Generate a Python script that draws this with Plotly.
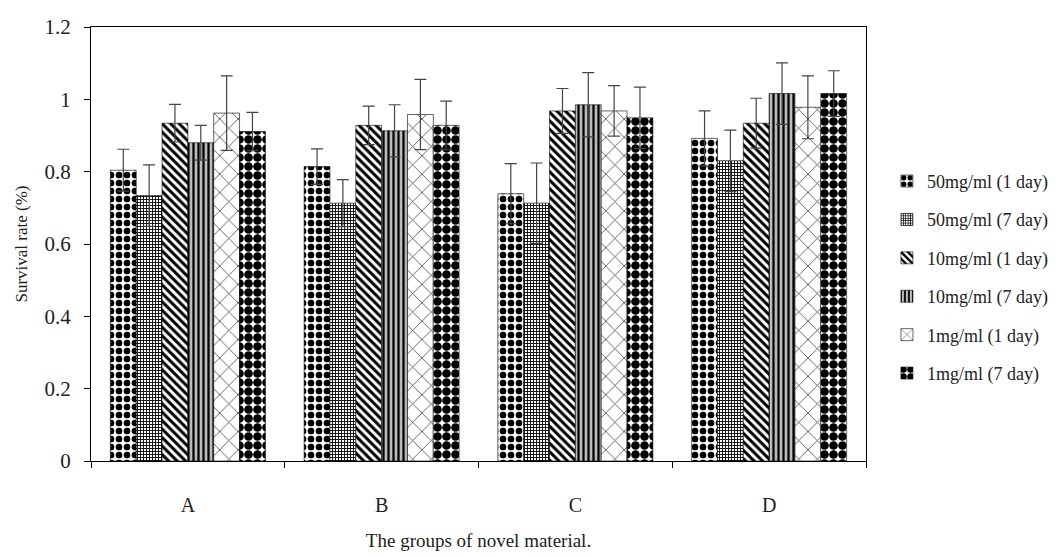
import plotly.graph_objects as go

groups = ["A", "B", "C", "D"]
series_names = ["50mg/ml (1 day)", "50mg/ml (7 day)", "10mg/ml (1 day)",
                "10mg/ml (7 day)", "1mg/ml (1 day)", "1mg/ml (7 day)"]

# values per series across groups A, B, C, D
s50_1 = [0.804, 0.814, 0.739, 0.892]
s50_7 = [0.734, 0.713, 0.713, 0.830]
s10_1 = [0.934, 0.928, 0.968, 0.934]
s10_7 = [0.880, 0.913, 0.985, 1.016]
s1_1 = [0.962, 0.958, 0.968, 0.978]
s1_7 = [0.911, 0.928, 0.949, 1.016]

e50_1 = [0.058, 0.049, 0.083, 0.076]
e50_7 = [0.085, 0.065, 0.111, 0.085]
e10_1 = [0.052, 0.053, 0.062, 0.069]
e10_7 = [0.048, 0.072, 0.089, 0.085]
e1_1 = [0.103, 0.097, 0.070, 0.087]
e1_7 = [0.053, 0.067, 0.085, 0.063]

y_ticks = [0, 0.2, 0.4, 0.6, 0.8, 1, 1.2]
y_tick_labels = ["0", "0.2", "0.4", "0.6", "0.8", "1", "1.2"]

values = [s50_1, s50_7, s10_1, s10_7, s1_1, s1_7]
errors = [e50_1, e50_7, e10_1, e10_7, e1_1, e1_7]

patterns = [
    dict(shape=".", fgcolor="black", bgcolor="white", size=8, solidity=0.55),
    dict(shape="+", fgcolor="black", bgcolor="white", size=3, solidity=0.5),
    dict(shape="\\", fgcolor="black", bgcolor="white", size=6, solidity=0.5),
    dict(shape="|", fgcolor="black", bgcolor="#bbbbbb", size=5, solidity=0.45),
    dict(shape="x", fgcolor="#444444", bgcolor="white", size=13, solidity=0.12),
    dict(shape=".", fgcolor="black", bgcolor="white", size=9, solidity=0.72),
]

FONT = "Liberation Serif"

fig = go.Figure()
for i, name in enumerate(series_names):
    fig.add_trace(go.Bar(
        x=groups, y=values[i], name=name, legendgroup=name,
        marker=dict(color="white", line=dict(color="black", width=0.6),
                    pattern=dict(fillmode="replace", **patterns[i])),
        error_y=dict(type="data", array=errors[i], visible=True,
                     color="#444444", thickness=1.2, width=6),
    ))

# page body has an 8px margin, so the figure is drawn 8px smaller
fig.update_layout(
    width=1056, height=549,
    margin=dict(l=83, r=198, t=7, b=96),
    paper_bgcolor="white", plot_bgcolor="white",
    barmode="group", bargap=0.2, bargroupgap=0,
    font=dict(family=FONT, color="black", size=18),
    legend=dict(x=1.027, xanchor="left", y=0.687, yanchor="top",
                font=dict(family=FONT, size=18, color="#222222"),
                tracegroupgap=12, itemwidth=30, bgcolor="rgba(0,0,0,0)"),
    showlegend=True,
)
fig.update_xaxes(
    showline=True, linecolor="black", linewidth=1.2, mirror=True,
    ticks="outside", tickson="boundaries", ticklen=6, tickcolor="black",
    tickfont=dict(family=FONT, size=20, color="#222222"),
    ticklabelstandoff=26,
    title=dict(text="The groups of novel material.",
               font=dict(family=FONT, size=19, color="#222222"), standoff=18),
    showgrid=False,
)
fig.update_yaxes(
    range=[0, 1.2], tickvals=y_ticks, ticktext=y_tick_labels,
    ticklabeloverflow="allow",
    showline=True, linecolor="black", linewidth=1.2, mirror=True,
    ticks="outside", ticklen=6, tickcolor="black",
    tickfont=dict(family=FONT, size=21, color="#222222"),
    ticklabelstandoff=9,
    title=dict(text="Survival rate (%)",
               font=dict(family=FONT, size=17, color="#222222"), standoff=12),
    showgrid=False, zeroline=False,
)

fig.write_html("out.html")
